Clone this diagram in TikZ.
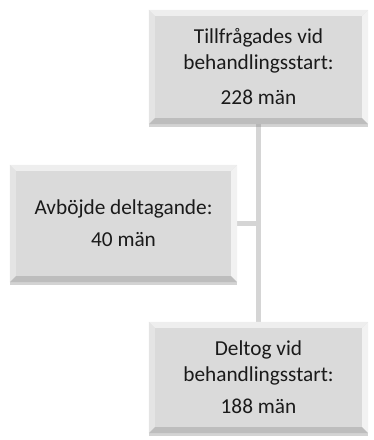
\documentclass[tikz,border=0pt]{standalone}
\usepackage{fontspec}
\setmainfont{Carlito}
\usetikzlibrary{shadows,backgrounds,calc}
\definecolor{boxfill}{HTML}{DADADA}
\definecolor{bevlight}{HTML}{EEEEEE}
\definecolor{bevleft}{HTML}{E4E4E4}
\definecolor{bevright}{HTML}{F2F2F2}
\definecolor{bevdark}{HTML}{BDBDBD}
\definecolor{connc}{HTML}{D5D5D5}
\definecolor{txt}{HTML}{1A1A1A}
\tikzset{
  box/.style={rectangle, fill=boxfill, inner sep=0pt, align=center,
    text=txt, font=\fontsize{21.3}{26}\selectfont,
    drop shadow={shadow xshift=0pt, shadow yshift=-3pt, opacity=0.35, fill=gray}},
  conn/.style={draw=connc, line width=4.5pt},
}
\newcommand{\bevelbox}[1]{%
  \fill[bevlight] (#1.north west) -- (#1.north east) -- ($(#1.north east)+(-6,6)$) -- ($(#1.north west)+(6,6)$) -- cycle;
  \fill[bevleft] (#1.north west) -- ($(#1.north west)+(6,6)$) -- ($(#1.south west)+(6,-6)$) -- (#1.south west) -- cycle;
  \fill[bevright] (#1.north east) -- ($(#1.north east)+(-6,6)$) -- ($(#1.south east)+(-6,-6)$) -- (#1.south east) -- cycle;
  \fill[bevdark] (#1.south west) -- ($(#1.south west)+(6,-6)$) -- ($(#1.south east)+(-6,-6)$) -- (#1.south east) -- cycle;
}
\begin{document}
\begin{tikzpicture}[x=1pt,y=-1pt]
\useasboundingbox (0,0) rectangle (373,440);
\node[box, minimum width=219pt, minimum height=114pt] (top) at (258.5,67)
  {Tillfrågades vid\\behandlingsstart:\\[9pt]228 män};
\node[box, minimum width=227pt, minimum height=117pt] (mid) at (123.5,223.5)
  {Avböjde deltagande:\\[6pt]40 män};
\node[box, minimum width=219pt, minimum height=111pt] (bot) at (258.5,377.5)
  {Deltog vid\\behandlingsstart:\\[6pt]188 män};
\bevelbox{top}
\bevelbox{mid}
\bevelbox{bot}
\begin{scope}[on background layer]
  \draw[conn] (top.south) -- (bot.north);
  \draw[conn] (mid.east) -- (mid.east -| top.south);
\end{scope}
\end{tikzpicture}
\end{document}
